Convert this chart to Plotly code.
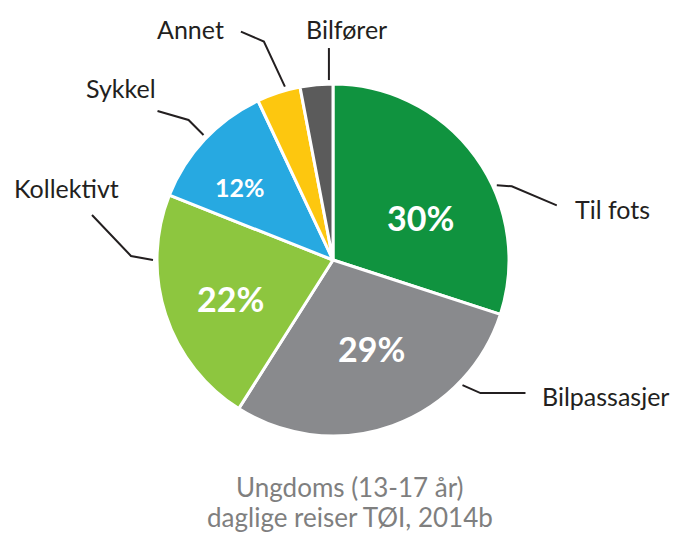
import math
import plotly.graph_objects as go

# ---- data ----
categories = ["Til fots", "Bilpassasjer", "Kollektivt", "Sykkel", "Annet", "Bilfører"]
shares = [30, 29, 22, 12, 4, 3]
inside_labels = ["30%", "29%", "22%", "12%", "", ""]
caption_lines = ["Ungdoms (13-17 år)", "daglige reiser TØI, 2014b"]

# ---- style ----
colors = ["#10933f", "#898a8d", "#8dc63f", "#27a9e1", "#fdc70f", "#5b5b5b"]
inside_sizes = [34, 34, 34, 25, 10, 10]
# per-slice inside label placement: (angle offset from bisector deg, radius fraction)
inside_place = [(10, 0.556), (-3.6, 0.545), (-2.7, 0.625), (-5, 0.67), (0, 0.6), (0, 0.6)]
W, H = 678, 533
CX, CY, R = 333, 260, 176
FONT = "Lato, 'Open Sans', sans-serif"

# leader layout per label: (anchor angle deg clockwise from top, elbow offset px, end offset px, label x, label y, anchor)
leader = {
    "Til fots":     (65.5, (15, 1), (60, 20), 573, 209, "left"),
    "Bilpassasjer": (134, (18, 8), (63, 8), 540, 396, "left"),
    "Kollektivt":   (270, (-22, -4), (-61, -45), 66, 188, "center"),
    "Sykkel":       (314, (-15, -15), (-46, -24), 121, 88, "center"),
    "Annet":        (344.5, (-21, -45), (-44, -55), 190, 29, "center"),
    "Bilfører":     (358.7, (0, -32), (0, -32), 346, 29, "center"),
}

def px(x, y):
    return x / W, 1 - y / H

fig = go.Figure()
fig.add_trace(go.Pie(
    labels=categories,
    values=shares,
    textinfo="none",
    marker=dict(colors=colors, line=dict(color="white", width=3)),
    sort=False,
    direction="clockwise",
    rotation=0,
    showlegend=False,
    hoverinfo="label+percent",
    domain=dict(x=[(CX - R) / W, (CX + R) / W], y=[1 - (CY + R) / H, 1 - (CY - R) / H]),
))

shapes = []
annotations = []

# inside percentage labels, placed from the cumulative shares
total = sum(shares)
cum = 0
for val, txt, size, (doff, rf) in zip(shares, inside_labels, inside_sizes, inside_place):
    mid = (cum + val / 2) / total * 360
    cum += val
    if not txt:
        continue
    a = math.radians(mid + doff)
    x = CX + rf * R * math.sin(a)
    y = CY - rf * R * math.cos(a)
    ax, ay = px(x, y)
    annotations.append(dict(x=ax, y=ay, xref="paper", yref="paper", text=txt,
                            showarrow=False, xanchor="center", yanchor="middle",
                            font=dict(family=FONT, size=size, color="white", weight="bold")))

for cat in categories:
    ang, elb, end, lx, ly, anc = leader[cat]
    a = math.radians(ang)
    sx = CX + (R + 4) * math.sin(a)
    sy = CY - (R + 4) * math.cos(a)
    pts = [(sx, sy), (sx + elb[0], sy + elb[1]), (sx + end[0], sy + end[1])]
    path = "M " + " L ".join(f"{px(x, y)[0]:.5f},{px(x, y)[1]:.5f}" for x, y in pts)
    shapes.append(dict(type="path", path=path, xref="paper", yref="paper",
                       line=dict(color="#231f20", width=2)))
    ax, ay = px(lx, ly)
    annotations.append(dict(x=ax, y=ay, xref="paper", yref="paper", text=cat,
                            showarrow=False, xanchor=anc, yanchor="middle",
                            font=dict(family=FONT, size=25, color="#231f20")))

for i, line in enumerate(caption_lines):
    ax, ay = px(350, 487 + 30 * i)
    annotations.append(dict(x=ax, y=ay, xref="paper", yref="paper", text=line,
                            showarrow=False, xanchor="center", yanchor="middle",
                            font=dict(family=FONT, size=26, color="#7f7f7f")))

fig.update_layout(
    width=W, height=H,
    margin=dict(l=0, r=0, t=0, b=0),
    paper_bgcolor="white",
    plot_bgcolor="white",
    shapes=shapes,
    annotations=annotations,
)

fig.write_html("out.html")
